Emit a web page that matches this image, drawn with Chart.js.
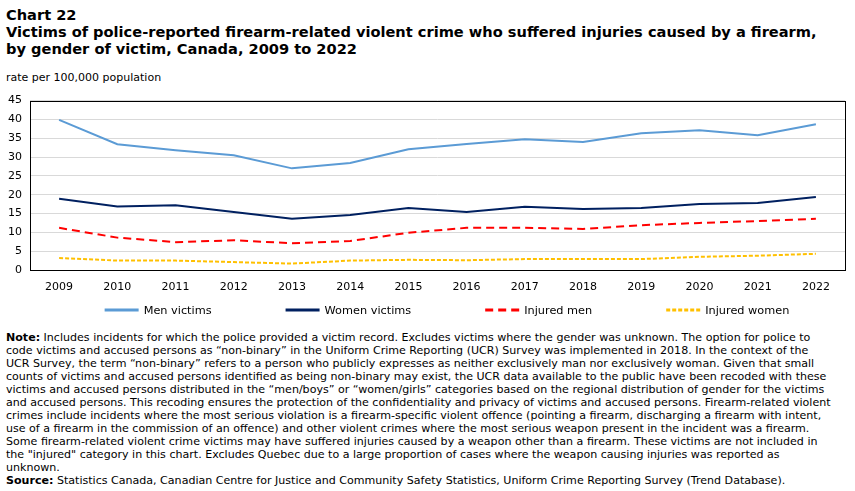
<!DOCTYPE html>
<html>
<head>
<meta charset="utf-8">
<script src="https://cdn.jsdelivr.net/npm/chart.js@4"></script>
<style>
  body { margin: 0; width: 855px; height: 491px; background: #fff; font-family: "DejaVu Sans", Verdana, sans-serif; color: #000; position: relative; overflow: hidden; }
  #title { position: absolute; left: 6px; top: 6px; font-weight: bold; font-size: 14.6px; line-height: 17px; white-space: nowrap; }
  #unit { position: absolute; left: 6px; top: 71px; font-size: 11px; }
  #wrap { position: absolute; left: 0; top: 86px; width: 855px; height: 240px; }
  #notes { position: absolute; left: 6px; top: 331px; font-size: 11.07px; line-height: 13px; white-space: nowrap; }
</style>
</head>
<body>
<div id="title">Chart 22<br>Victims of police-reported firearm-related violent crime who suffered injuries caused by a firearm,<br>by gender of victim, Canada, 2009 to 2022</div>
<div id="unit">rate per 100,000 population</div>
<div id="wrap"><canvas id="chart1"></canvas></div>
<div id="notes"><b>Note:</b> Includes incidents for which the police provided a victim record. Excludes victims where the gender was unknown. The option for police to<br>
code victims and accused persons as “non-binary” in the Uniform Crime Reporting (UCR) Survey was implemented in 2018. In the context of the<br>
UCR Survey, the term “non-binary” refers to a person who publicly expresses as neither exclusively man nor exclusively woman. Given that small<br>
counts of victims and accused persons identified as being non-binary may exist, the UCR data available to the public have been recoded with these<br>
victims and accused persons distributed in the “men/boys” or “women/girls” categories based on the regional distribution of gender for the victims<br>
and accused persons. This recoding ensures the protection of the confidentiality and privacy of victims and accused persons. Firearm-related violent<br>
crimes include incidents where the most serious violation is a firearm-specific violent offence (pointing a firearm, discharging a firearm with intent,<br>
use of a firearm in the commission of an offence) and other violent crimes where the most serious weapon present in the incident was a firearm.<br>
Some firearm-related violent crime victims may have suffered injuries caused by a weapon other than a firearm. These victims are not included in<br>
the "injured" category in this chart. Excludes Quebec due to a large proportion of cases where the weapon causing injuries was reported as<br>
unknown.<br>
<b>Source:</b> Statistics Canada, Canadian Centre for Justice and Community Safety Statistics, Uniform Crime Reporting Survey (Trend Database).</div>

<script>
const years = ["2009", "2010", "2011", "2012", "2013", "2014", "2015", "2016", "2017", "2018", "2019", "2020", "2021", "2022"];
const menVictims = [39.9, 33.4, 31.8, 30.5, 27.0, 28.4, 32.1, 33.5, 34.7, 34.0, 36.3, 37.1, 35.8, 38.7];
const womenVictims = [18.9, 16.9, 17.2, 15.4, 13.6, 14.6, 16.5, 15.4, 16.8, 16.2, 16.5, 17.5, 17.8, 19.4];
const injuredMen = [11.2, 8.6, 7.4, 7.9, 7.1, 7.7, 9.9, 11.2, 11.2, 10.9, 11.9, 12.5, 13.0, 13.6];
const injuredWomen = [3.2, 2.5, 2.5, 2.1, 1.7, 2.5, 2.7, 2.6, 2.9, 2.9, 2.9, 3.5, 3.8, 4.3];
const yTicks = [0, 5, 10, 15, 20, 25, 30, 35, 40, 45];

const tickFont = { family: "DejaVu Sans", size: 11 };

// frame round the plot area
const frame = {
  id: 'frame',
  afterDraw(chart) {
    const a = chart.chartArea, c = chart.ctx;
    c.save();
    c.strokeStyle = '#000';
    c.lineWidth = 1;
    c.strokeRect(Math.round(a.left) + 0.5, Math.round(a.top) + 0.5, Math.round(a.right - a.left), Math.round(a.bottom - a.top));
    c.restore();
  }
};

// legend drawn under the axis, wide gaps like the original
const lineLegend = {
  id: 'lineLegend',
  afterDraw(chart) {
    const c = chart.ctx;
    const sets = chart.data.datasets;
    const boxW = 34, gapText = 5, gapItem = 74, y = 224;
    c.save();
    c.font = '11.3px "DejaVu Sans"';
    let total = 0;
    sets.forEach(d => { total += boxW + gapText + c.measureText(d.label).width; });
    total += gapItem * (sets.length - 1);
    let x = 447 - total / 2;
    sets.forEach(d => {
      c.strokeStyle = d.borderColor;
      c.lineWidth = 3;
      c.setLineDash(d.borderDash || []);
      c.beginPath();
      c.moveTo(x, y);
      c.lineTo(x + boxW, y);
      c.stroke();
      c.setLineDash([]);
      c.fillStyle = '#000';
      c.textBaseline = 'middle';
      c.fillText(d.label, x + boxW + gapText, y + 1);
      x += boxW + gapText + c.measureText(d.label).width + gapItem;
    });
    c.restore();
  }
};

new Chart(document.getElementById('chart1'), {
  type: 'line',
  data: {
    labels: years,
    datasets: [{
      label: 'Men victims',
      data: menVictims,
      borderColor: "#5b9bd5",
      borderWidth: 2
    }, {
      label: 'Women victims',
      data: womenVictims,
      borderColor: "#002060",
      borderWidth: 2
    }, {
      label: 'Injured men',
      data: injuredMen,
      borderColor: "#ff0000",
      borderWidth: 2,
      borderDash: [8, 5]
    }, {
      label: 'Injured women',
      data: injuredWomen,
      borderColor: "#ffc000",
      borderWidth: 2,
      borderDash: [4, 2]
    }]
  },
  options: {
    responsive: true,
    maintainAspectRatio: false,
    animation: false,
    elements: { point: { radius: 0 }, line: { tension: 0 } },
    layout: { padding: { top: 14, right: 10, bottom: 26, left: 0 } },
    plugins: { legend: { display: false }, tooltip: { enabled: false } },
    scales: {
      x: {
        offset: true,
        grid: { display: false },
        border: { display: false },
        ticks: { font: tickFont, color: '#000', padding: 3, maxRotation: 0 },
        afterFit(s) { s.height = 30; }
      },
      y: {
        min: 0,
        max: 45,
        afterBuildTicks(s) { s.ticks = yTicks.map(v => ({ value: v })); },
        grid: { color: '#d9d9d9', lineWidth: 1, drawTicks: false },
        border: { display: false },
        ticks: { font: tickFont, color: '#000', padding: 8 },
        afterFit(s) { s.width = 30; }
      }
    }
  },
  plugins: [frame, lineLegend]
});
</script>
</body>
</html>
